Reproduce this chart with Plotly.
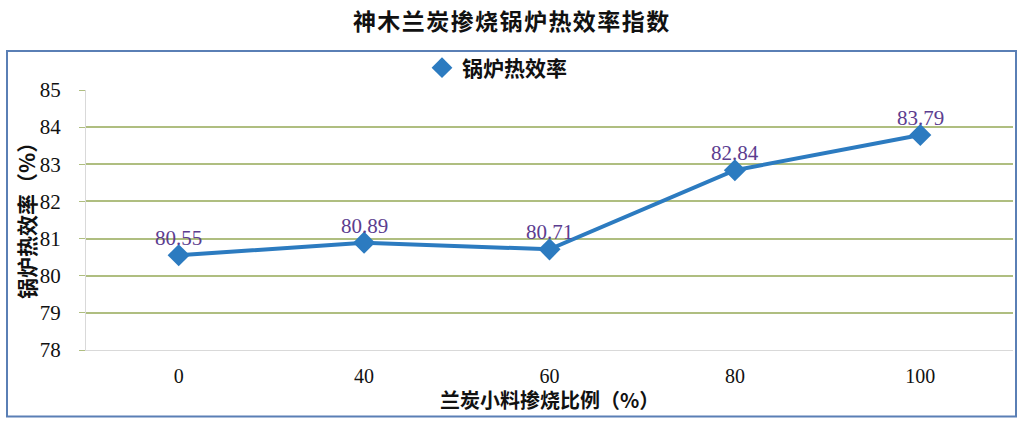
import plotly.graph_objects as go

categories = ["0", "40", "60", "80", "100"]
efficiency = [80.55, 80.89, 80.71, 82.84, 83.79]
series_name = "锅炉热效率"
y_ticks = [78, 79, 80, 81, 82, 83, 84, 85]

title_text = "\u200a".join("神木兰炭掺烧锅炉热效率指数")

fig = go.Figure()
fig.add_trace(go.Scatter(
    x=categories, y=efficiency, name=series_name,
    mode="lines+markers", showlegend=False,
    line=dict(color="#2c7bc0", width=4),
    marker=dict(symbol="diamond", size=17, color="#2c7bc0"),
))
# legend-only entry (marker only, as in the reference legend)
fig.add_trace(go.Scatter(
    x=[None], y=[None], name=f"<b>{series_name}</b>", mode="markers",
    marker=dict(symbol="diamond", size=17, color="#2c7bc0"),
))

W, H = 1022, 426
L, R, T, B = 86, 9, 90, 76
pw, ph = W - L - R, H - T - B

def px(x):
    return (x - L) / pw

def py(y):
    return (H - B - y) / ph

# data labels placed at each category position (index on the category axis)
annotations = [
    dict(x=i, y=v, text=f"{v:.2f}", xref="x", yref="y", showarrow=False,
         yshift=17, font=dict(family="Liberation Serif", size=21, color="#5c3d8f"))
    for i, v in enumerate(efficiency)
]
annotations += [
    dict(text="<b>兰炭小料掺烧比例（%）</b>", xref="paper", yref="paper",
         x=0.5, y=py(399), xanchor="center", yanchor="middle", showarrow=False,
         font=dict(family="Noto Sans CJK SC", size=20, color="#111111")),
    dict(text="<b>锅炉热效率（%）</b>", xref="paper", yref="paper",
         x=px(26), y=py(216), xanchor="center", yanchor="middle", showarrow=False,
         textangle=-90,
         font=dict(family="Noto Sans CJK SC", size=21, color="#111111")),
]

fig.update_layout(
    width=W, height=H,
    margin=dict(l=L, r=R, t=T, b=B),
    paper_bgcolor="white", plot_bgcolor="white",
    title=dict(text=f"<b>{title_text}</b>", x=0.5, xanchor="center",
               y=1 - 22 / H, yanchor="middle", yref="container",
               font=dict(family="Noto Sans CJK SC", size=23, color="#111111")),
    showlegend=True,
    legend=dict(orientation="h", x=px(422), xanchor="left", y=py(68), yanchor="middle",
                font=dict(family="Noto Sans CJK SC", size=21, color="#111111"),
                bgcolor="rgba(0,0,0,0)", itemwidth=30),
    xaxis=dict(type="category", range=[-0.5, 4.5], showgrid=False,
               showline=True, linecolor="#d9d9d9", linewidth=1, ticks="",
               ticklabelstandoff=8,
               tickfont=dict(family="Liberation Serif", size=20, color="#111111"),
               zeroline=False),
    yaxis=dict(range=[78, 85], tickvals=y_ticks, showgrid=True, gridcolor="#afbe80",
               gridwidth=1.5, showline=True, linecolor="#d9d9d9", linewidth=1,
               ticks="outside", ticklen=6, tickcolor="#afbe80", ticklabelstandoff=14,
               tickfont=dict(family="Liberation Serif", size=21, color="#111111"),
               zeroline=False),
    shapes=[dict(type="rect", xref="paper", yref="paper",
                 x0=px(7), x1=px(1016), y0=py(416.5), y1=py(51),
                 line=dict(color="#5a7fb5", width=2), fillcolor="rgba(0,0,0,0)",
                 layer="below")],
    annotations=annotations,
)

fig.write_html("out.html", config={"displayModeBar": False},
               post_script="document.body.style.margin='0';")
